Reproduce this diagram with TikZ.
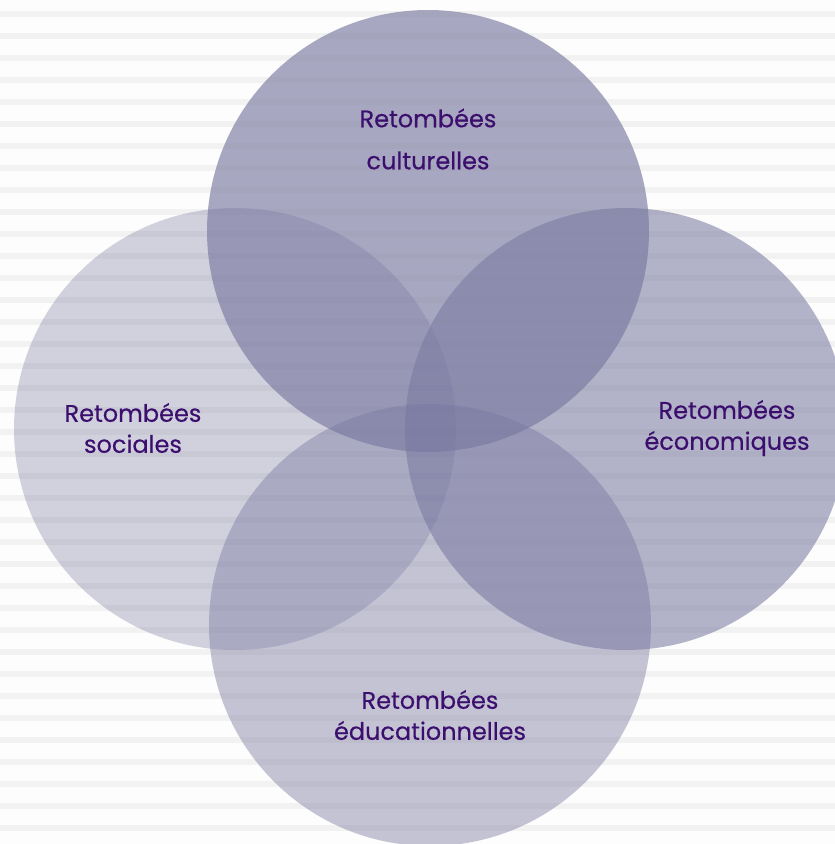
\documentclass[tikz,border=0pt]{standalone}
\usepackage{fontspec}
\setmainfont{Poppins}
\newfontfamily\vennfont[FakeBold=0.4]{Poppins}
\usepackage{xcolor}
\usepackage{tikz}
\usetikzlibrary{positioning}

\definecolor{venn}{RGB}{120,120,160}
\definecolor{stripe}{RGB}{242,242,242}
\definecolor{paper}{RGB}{253,253,253}
\definecolor{ink}{RGB}{60,15,110}

\begin{document}
\begin{tikzpicture}[
            x=1pt, y=-1pt,
            disc/.style={circle, fill=venn, minimum size=442pt, inner sep=0pt},
            lbl/.style={text=ink, font=\vennfont\fontsize{24}{31}\selectfont, align=center}
        ]
        % Background
        \fill[paper] (0,0) rectangle (835,844);
        \useasboundingbox (0,0) rectangle (835,844);
        \foreach \i in {0,...,38}
            \fill[stripe] (0,11+22*\i) rectangle (835,17+22*\i);

        % Circles
        \node[disc, fill opacity=0.33] (soc) at (235,429) {};
        \node[disc, fill opacity=0.64] (cult) at (428,231) {};
        \node[disc, fill opacity=0.56] (eco) at (626,429) {};
        \node[disc, fill opacity=0.43] (edu) at (430,625) {};

        % Labels
        \node[lbl, font=\vennfont\fontsize{24}{42}\selectfont] (culttxt) at (428,139) {Retombées\\culturelles};
        \node[lbl] (soctxt) at (133,428) {Retombées\\sociales};
        \node[lbl] (ecotxt) at (727,428) {Retombées\\économiques};
        \node[lbl] (edutxt) at (430,715) {Retombées\\éducationnelles};

    \end{tikzpicture}
\end{document}
